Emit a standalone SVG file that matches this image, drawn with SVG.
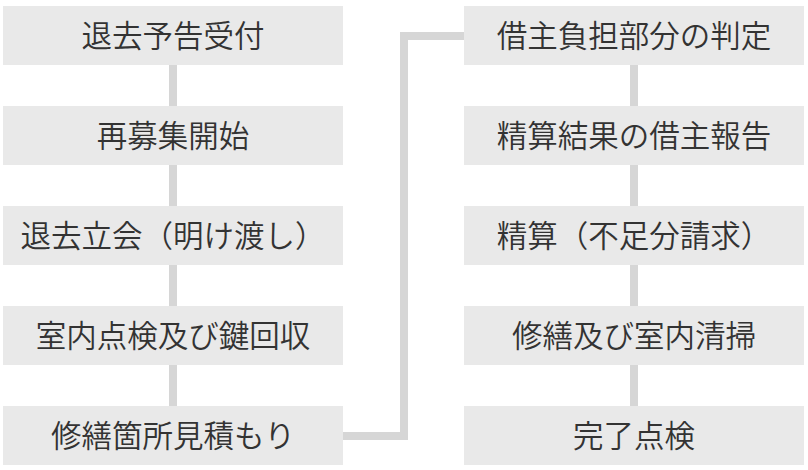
<svg xmlns="http://www.w3.org/2000/svg" width="808" height="470" viewBox="0 0 808 470">
<style>
.box{fill:#e9e9e9}
.lbl{font-family:"Noto Sans CJK JP","Noto Sans CJK SC",sans-serif;font-size:30.5px;font-weight:350;fill:#333;text-anchor:middle}
.con{stroke:#d6d6d6;stroke-width:8;fill:none}
</style>
<rect width="808" height="470" fill="#fff"/>
<g id="connectors">
<line class="con" x1="173" y1="65" x2="173" y2="106"/>
<line class="con" x1="173" y1="165" x2="173" y2="206"/>
<line class="con" x1="173" y1="265" x2="173" y2="306"/>
<line class="con" x1="173" y1="365" x2="173" y2="406"/>
<polyline class="con" points="343,436 404,436 404,36 464,36"/>
<line class="con" x1="634" y1="65" x2="634" y2="106"/>
<line class="con" x1="634" y1="165" x2="634" y2="206"/>
<line class="con" x1="634" y1="265" x2="634" y2="306"/>
<line class="con" x1="634" y1="365" x2="634" y2="406"/>
</g>
<g id="n1"><rect class="box" x="3" y="6" width="340" height="59"/><text class="lbl" x="173" y="47">退去予告受付</text></g>
<g id="n2"><rect class="box" x="3" y="106" width="340" height="59"/><text class="lbl" x="173" y="147">再募集開始</text></g>
<g id="n3"><rect class="box" x="3" y="206" width="340" height="59"/><text class="lbl" x="173" y="247">退去立会（明け渡し）</text></g>
<g id="n4"><rect class="box" x="3" y="306" width="340" height="59"/><text class="lbl" x="173" y="347">室内点検及び鍵回収</text></g>
<g id="n5"><rect class="box" x="3" y="406" width="340" height="59"/><text class="lbl" x="173" y="447">修繕箇所見積もり</text></g>
<g id="n6"><rect class="box" x="464" y="6" width="340" height="59"/><text class="lbl" x="634" y="47">借主負担部分の判定</text></g>
<g id="n7"><rect class="box" x="464" y="106" width="340" height="59"/><text class="lbl" x="634" y="147">精算結果の借主報告</text></g>
<g id="n8"><rect class="box" x="464" y="206" width="340" height="59"/><text class="lbl" x="634" y="247">精算（不足分請求）</text></g>
<g id="n9"><rect class="box" x="464" y="306" width="340" height="59"/><text class="lbl" x="634" y="347">修繕及び室内清掃</text></g>
<g id="n10"><rect class="box" x="464" y="406" width="340" height="59"/><text class="lbl" x="634" y="447">完了点検</text></g>
</svg>
